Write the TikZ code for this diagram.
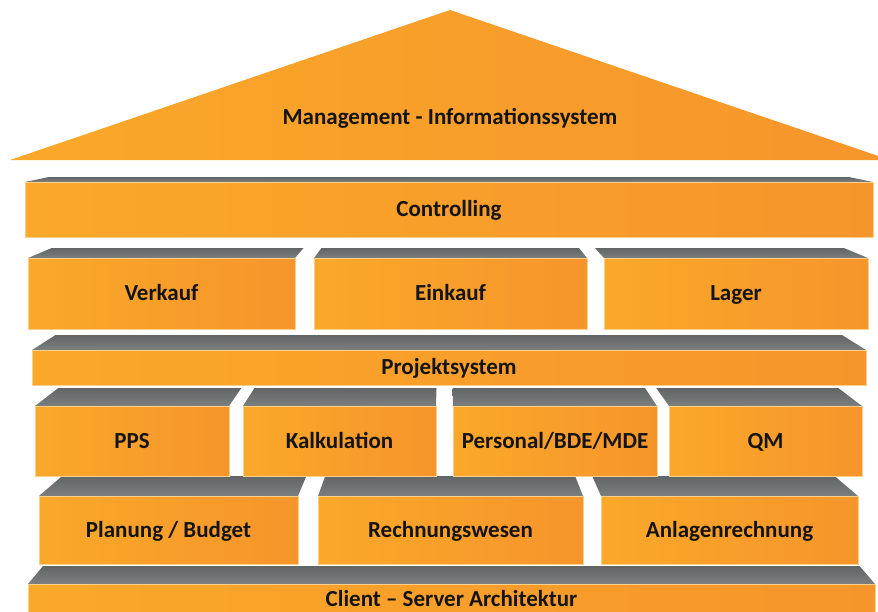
\documentclass[tikz,border=0pt]{standalone}
\usepackage{fontspec}
\setmainfont{Carlito}
\definecolor{orangehell}{RGB}{250,168,42}
\definecolor{orangedunkel}{RGB}{246,149,43}
\definecolor{grauhell}{RGB}{124,127,128}
\definecolor{graudunkel}{RGB}{98,101,102}
\tikzset{
  dachflaeche/.style={top color=graudunkel, bottom color=grauhell},
  vorderseite/.style={left color=orangehell, right color=orangedunkel, draw=orangehell!55!white, line width=.5pt},
  beschriftung/.style={font=\bfseries\fontsize{23}{27}\selectfont, text=black!92, text height=14.7pt, text depth=0pt, inner sep=0pt}
}
\newcommand{\kfak}{0.057}
% #1 Name, #2/#3 links/rechts, #4/#5 oben/unten, #6 Tiefe, #7 Text
\newcommand{\baustein}[7]{%
  \pgfmathsetmacro{\hinterl}{#2+(445-#2)*\kfak}
  \pgfmathsetmacro{\hinterr}{#3+(445-#3)*\kfak}
  \path[dachflaeche] (#2,#4) -- (\hinterl,#4-#6) -- (\hinterr,#4-#6) -- (#3,#4) -- cycle;
  \path[vorderseite] (#2,#4) rectangle (#3,#5);
  \node[beschriftung] (#1) at ({(#2+#3)/2},{(#4+#5)/2}) {#7};
}

\begin{document}
\begin{tikzpicture}[x=1pt,y=-1pt]
  \useasboundingbox (0,0) rectangle (878,611);
  \clip (0,0) rectangle (878,611);

  % Fundament
  \renewcommand{\kfak}{0.036}
  \baustein{client}{28}{875}{584}{614}{18}{Client -- Server Architektur}
  \renewcommand{\kfak}{0.057}

  \baustein{planung}{39}{298}{496}{564}{20}{Planung / Budget}
  \baustein{rewe}{318}{583}{496}{564}{20}{Rechnungswesen}
  \baustein{anlagen}{601}{858}{496}{564}{20}{Anlagenrechnung}

  \baustein{pps}{35}{229}{406}{476}{18}{PPS}
  \baustein{kalk}{243}{436}{406}{476}{18}{Kalkulation}
  \baustein{personal}{453}{657}{406}{476}{18}{Personal/BDE/MDE}
  \baustein{qm}{669}{862}{406}{476}{18}{QM}

  \baustein{projekt}{32}{866}{350}{385}{15}{Projektsystem}

  \baustein{verkauf}{28}{295}{258}{329}{10}{Verkauf}
  \baustein{einkauf}{314}{587}{258}{329}{10}{Einkauf}
  \baustein{lager}{604}{868}{258}{329}{10}{Lager}

  \baustein{controlling}{25}{873}{182}{237}{5}{Controlling}

  % Dach
  \coordinate (dachl) at (10,160);
  \coordinate (first) at (450,10);
  \coordinate (dachr) at (890,160);
  \path[left color=orangehell, right color=orangedunkel] (dachl) -- (first) -- (dachr) -- cycle;
  \node[beschriftung] (mis) at (450,117) {Management - Informationssystem};
\end{tikzpicture}
\end{document}
